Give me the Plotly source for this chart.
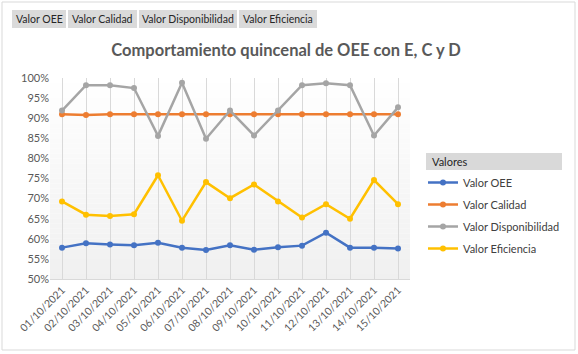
import plotly.graph_objects as go

fechas = ["01/10/2021", "02/10/2021", "03/10/2021", "04/10/2021", "05/10/2021",
          "06/10/2021", "07/10/2021", "08/10/2021", "09/10/2021", "10/10/2021",
          "11/10/2021", "12/10/2021", "13/10/2021", "14/10/2021", "15/10/2021"]
valor_oee = [0.578, 0.589, 0.586, 0.584, 0.590, 0.578, 0.572, 0.584, 0.573, 0.579,
             0.583, 0.615, 0.578, 0.578, 0.576]
valor_calidad = [0.910, 0.908, 0.910, 0.910, 0.910, 0.910, 0.910, 0.910, 0.910, 0.910,
                 0.910, 0.910, 0.910, 0.910, 0.910]
valor_disponibilidad = [0.919, 0.982, 0.982, 0.975, 0.856, 0.988, 0.849, 0.919, 0.857, 0.919,
                        0.982, 0.987, 0.982, 0.857, 0.927]
valor_eficiencia = [0.693, 0.660, 0.657, 0.661, 0.758, 0.645, 0.741, 0.701, 0.735, 0.693,
                    0.653, 0.686, 0.650, 0.746, 0.686]

series = [
    ("Valor OEE", valor_oee, "#4472C4"),
    ("Valor Calidad", valor_calidad, "#ED7D31"),
    ("Valor Disponibilidad", valor_disponibilidad, "#A5A5A5"),
    ("Valor Eficiencia", valor_eficiencia, "#FFC000"),
]

FONT = "Lato"
W, H = 578, 354
L, R, T, B = 50, 410, 78, 279

fig = go.Figure()
for i, (name, vals, col) in enumerate(series):
    fig.add_trace(go.Scatter(
        x=fechas, y=vals, name=name, mode="lines+markers",
        line=dict(color=col, width=2.5), marker=dict(color=col, size=6),
        legendgroup=f"g{i}",
    ))

def px2paper_x(px):
    return (px - L) / (R - L)

def px2paper_y(py):
    return (B - py) / (B - T)

shapes = []
# background gradient of plot area
n = 40
for k in range(n):
    y0 = k / n
    y1 = (k + 1) / n
    t = 1 - (k + 0.5) / n  # 1 at bottom
    g = int(round(255 - 15 * t))
    shapes.append(dict(type="rect", xref="paper", yref="paper", x0=0, x1=1, y0=y0, y1=y1,
                       fillcolor=f"rgb({g},{g},{g})", line=dict(width=0), layer="below"))
# outer chart border
shapes.append(dict(type="rect", xref="paper", yref="paper",
                   x0=px2paper_x(2), x1=px2paper_x(575), y0=px2paper_y(350), y1=px2paper_y(2),
                   line=dict(color="#D9D9D9", width=1), fillcolor="rgba(0,0,0,0)", layer="below"))
# legend header background
shapes.append(dict(type="rect", xref="paper", yref="paper",
                   x0=px2paper_x(426), x1=px2paper_x(562), y0=px2paper_y(170), y1=px2paper_y(153),
                   line=dict(width=0), fillcolor="#D9D9D9", layer="below"))

annotations = []
buttons = [("Valor OEE", 12, 66), ("Valor Calidad", 68, 137),
           ("Valor Disponibilidad", 139, 237), ("Valor Eficiencia", 239, 317)]
for txt, x0, x1 in buttons:
    shapes.append(dict(type="rect", xref="paper", yref="paper",
                       x0=px2paper_x(x0), x1=px2paper_x(x1), y0=px2paper_y(28), y1=px2paper_y(10),
                       line=dict(width=0), fillcolor="#DADADA", layer="below"))
    annotations.append(dict(text=txt, xref="paper", yref="paper",
                            x=px2paper_x((x0 + x1) / 2), y=px2paper_y(19),
                            showarrow=False, font=dict(family=FONT, size=10.5, color="#262626"),
                            xanchor="center", yanchor="middle"))
annotations.append(dict(text="Valores", xref="paper", yref="paper",
                        x=px2paper_x(430), y=px2paper_y(161.5), showarrow=False,
                        xanchor="left", yanchor="middle",
                        font=dict(family=FONT, size=11, color="#262626")))

fig.update_layout(
    width=W, height=H,
    margin=dict(l=L, r=W - R, t=T, b=H - B, pad=0),
    paper_bgcolor="white", plot_bgcolor="rgba(0,0,0,0)",
    title=dict(text="<b>Comportamiento quincenal de OEE con E, C y D</b>",
               x=px2paper_x(286), xref="paper", xanchor="center",
               y=1 - 50 / H, yanchor="middle",
               font=dict(family=FONT, size=16.5, color="#595959")),
    font=dict(family=FONT, size=11, color="#595959"),
    showlegend=True,
    legend=dict(x=px2paper_x(423), y=px2paper_y(168), xanchor="left", yanchor="top",
                font=dict(family=FONT, size=11, color="#404040"),
                bgcolor="rgba(0,0,0,0)", tracegroupgap=3, itemwidth=30),
    shapes=shapes, annotations=annotations,
    xaxis=dict(type="category", showgrid=True, gridcolor="#D9D9D9", gridwidth=1,
               showline=True, linecolor="#D9D9D9", tickangle=-45, ticks="",
               range=[-0.5, len(fechas) - 0.5],
               tickfont=dict(family=FONT, size=10.5, color="#595959"), zeroline=False),
    yaxis=dict(range=[0.5, 1.0], dtick=0.05, tickformat=".0%", showgrid=False,
               showline=False, zeroline=False, ticks="",
               tickfont=dict(family=FONT, size=11, color="#595959")),
)

fig.write_html("out.html")
